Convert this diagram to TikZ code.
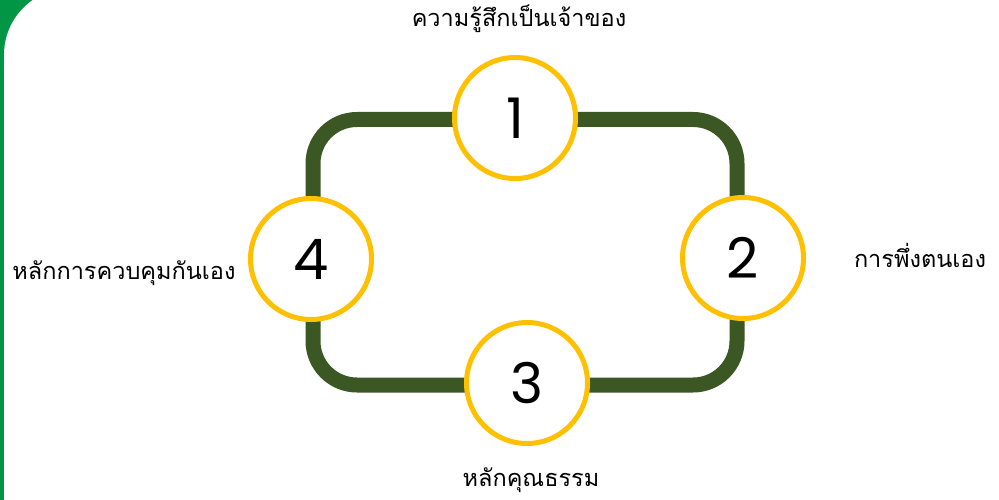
\documentclass[tikz,border=0pt]{standalone}
\usepackage{fontspec}
\newfontfamily\thaifont[Script=Thai]{Loma}
\newfontfamily\digitfont{Poppins}
\definecolor{edgegreen}{RGB}{0,150,70}
\definecolor{loopgreen}{RGB}{59,87,36}
\definecolor{ringgold}{RGB}{255,192,0}
\begin{document}
\begin{tikzpicture}[x=1pt,y=-1pt,
  ring/.style={circle,draw=ringgold,line width=5pt,fill=white,minimum size=121pt,inner sep=0pt,
    font=\digitfont\fontsize{56}{56}\selectfont},
  caption/.style={font=\thaifont\fontsize{23.5}{28}\selectfont,inner sep=0pt}]
  % page and green left edge
  \fill[white] (0,0) rectangle (999,500);
  \useasboundingbox (0,0) rectangle (999,500);
  \fill[edgegreen] (0,0) rectangle (60,500);
  \fill[white,rounded corners=67pt] (4,-12) rectangle (1100,600);
  % loop path
  \draw[loopgreen,line width=15pt,rounded corners=44pt] (313,119.5) rectangle (737,385);
  % numbered rings
  \node[ring] (n1) at (515,118) {1};
  \node[ring] (n2) at (743,258) {2};
  \node[ring] (n3) at (527,383) {3};
  \node[ring] (n4) at (311,259) {4};
  % captions
  \node[caption,anchor=south] (c1) at (519,33) {ความรู้สึกเป็นเจ้าของ};
  \node[caption,anchor=base] (c2) at (920,267) {การพึ่งตนเอง};
  \node[caption,anchor=base] (c3) at (531,486) {หลักคุณธรรม};
  \node[caption,anchor=base] (c4) at (124,279) {หลักการควบคุมกันเอง};
\end{tikzpicture}
\end{document}
